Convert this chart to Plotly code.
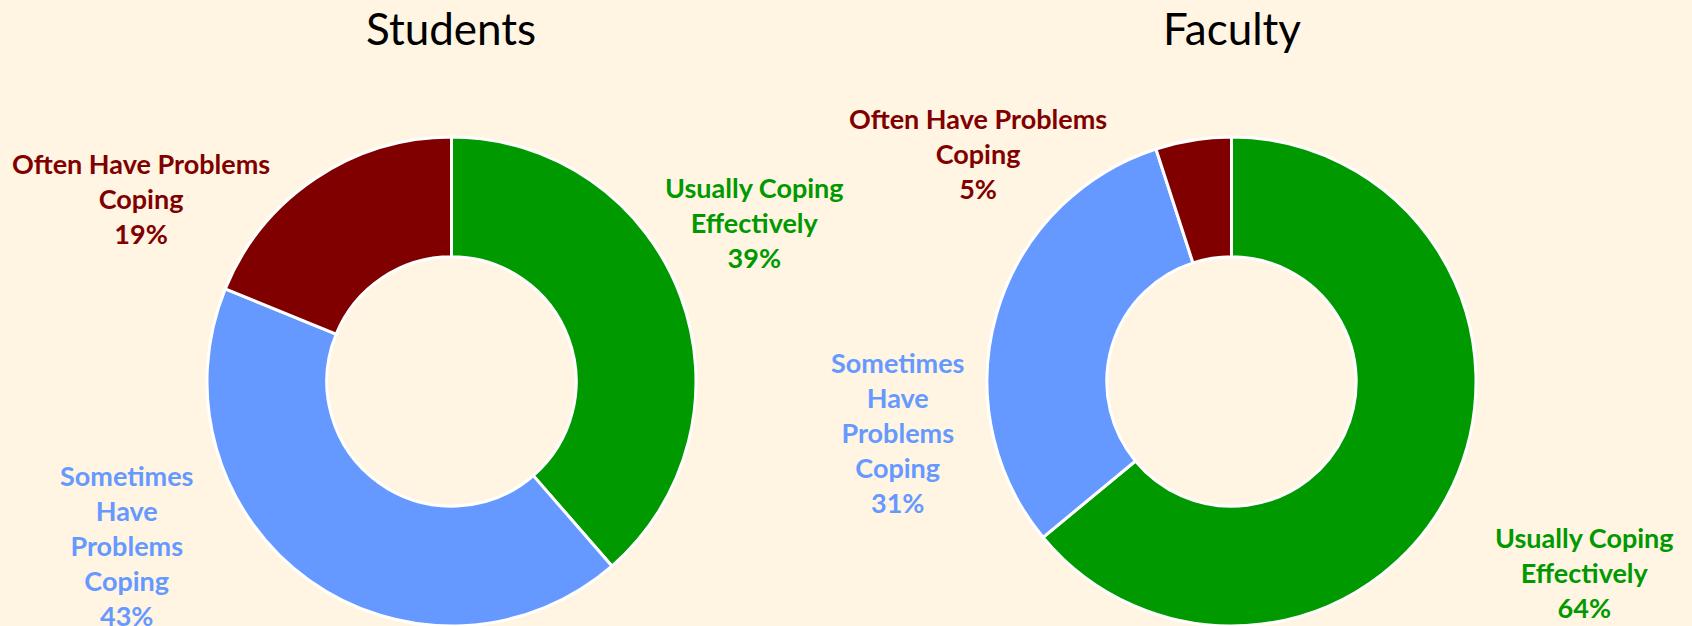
import plotly.graph_objects as go

categories = ["Usually Coping Effectively", "Sometimes Have Problems Coping", "Often Have Problems Coping"]
label_lines_students = ["Usually Coping<br>Effectively", "Sometimes<br>Have<br>Problems<br>Coping", "Often Have Problems<br>Coping"]
label_lines_faculty = ["Usually Coping<br>Effectively", "Sometimes<br>Have<br>Problems<br>Coping", "Often Have Problems<br>Coping"]
students_values = [39, 43, 19]
faculty_values = [64, 31, 5]
colors = ["#009900", "#6699FF", "#800000"]
titles = ["Students", "Faculty"]

W, H = 1692, 626
BG = "#FFF5E2"

def px(x):
    return x / W

def py(y):
    return 1 - y / H

fig = go.Figure()
fig.add_trace(go.Pie(
    labels=categories, values=students_values, hole=0.51, sort=False,
    direction="clockwise", rotation=0,
    marker=dict(colors=colors, line=dict(color="white", width=3)),
    textinfo="none", hoverinfo="label+value",
    domain=dict(x=[px(207), px(696)], y=[0, py(137)]),
    showlegend=False,
))
fig.add_trace(go.Pie(
    labels=categories, values=faculty_values, hole=0.51, sort=False,
    direction="clockwise", rotation=0,
    marker=dict(colors=colors, line=dict(color="white", width=3)),
    textinfo="none", hoverinfo="label+value",
    domain=dict(x=[px(987), px(1476)], y=[0, py(137)]),
    showlegend=False,
))

label_font = "Lato, 'Open Sans', sans-serif"
# label anchor positions (pixel centres of each text block)
students_pos = [(754, 222), (126, 545), (141, 198)]
faculty_pos = [(1584, 572), (897, 432), (978, 153)]

for lines, vals, pos in [(label_lines_students, students_values, students_pos),
                         (label_lines_faculty, faculty_values, faculty_pos)]:
    for i in range(3):
        fig.add_annotation(
            text=f"<b>{lines[i]}<br>{vals[i]}%</b>",
            x=px(pos[i][0]), y=py(pos[i][1]), xref="paper", yref="paper",
            xanchor="center", yanchor="middle", showarrow=False, align="center",
            font=dict(family=label_font, size=27, color=colors[i]),
        )

for t, cx in zip(titles, [451.5, 1231.5]):
    fig.add_annotation(
        text=t, x=px(cx), y=py(28), xref="paper", yref="paper",
        xanchor="center", yanchor="middle", showarrow=False,
        font=dict(family=label_font, size=44, color="black"),
    )

fig.update_layout(
    width=W, height=H, margin=dict(l=0, r=0, t=0, b=0),
    paper_bgcolor=BG, plot_bgcolor=BG,
)

fig.write_html("out.html", config={"displayModeBar": False},
               post_script="document.body.style.margin='0';document.body.style.background='" + BG + "';")
